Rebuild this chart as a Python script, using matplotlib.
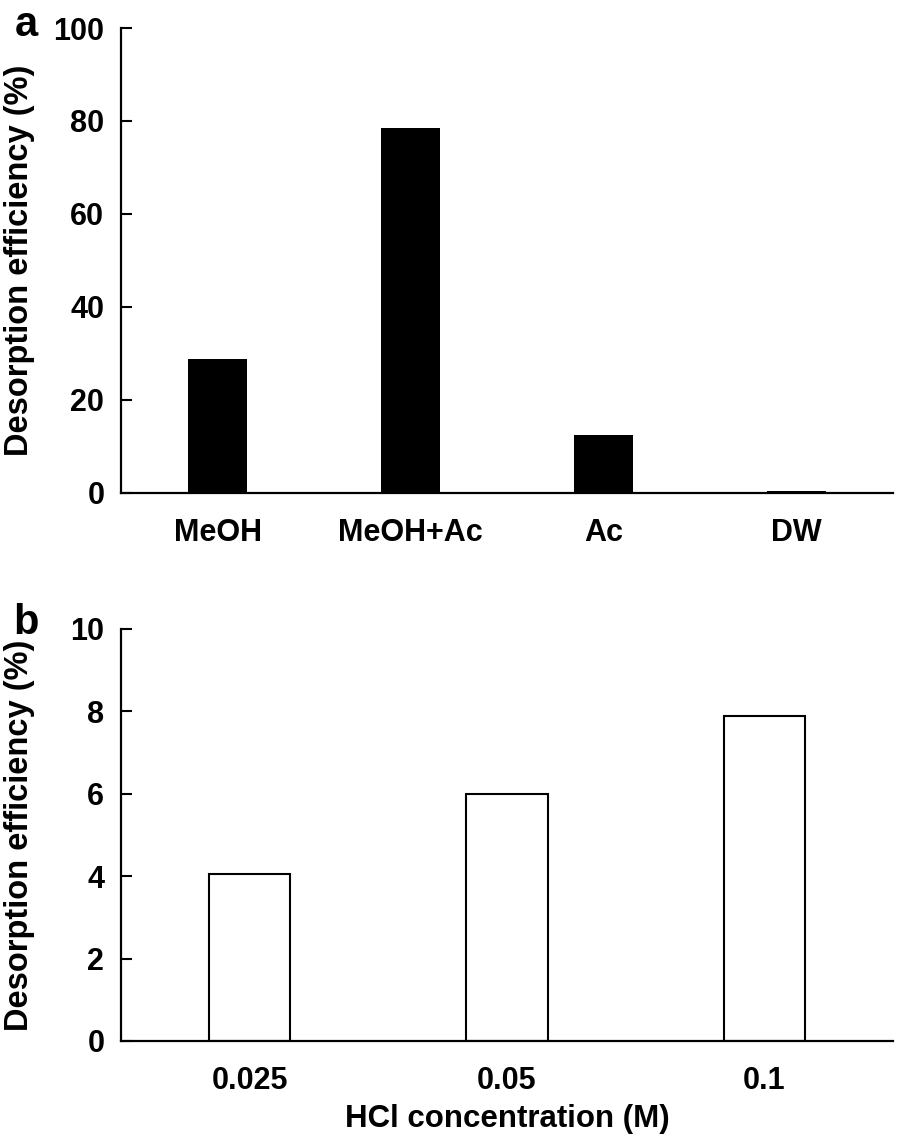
import matplotlib.pyplot as plt
import numpy as np

plt.rcParams['font.family'] = ['Liberation Sans', 'DejaVu Sans']
plt.rcParams['font.weight'] = 'bold'

# panel a - solvents
solvents = ['MeOH', 'MeOH+Ac', 'Ac', 'DW']
solvent_eff = [28.8, 78.5, 12.3, 0.3]

# panel b - HCl concentration
hcl_labels = ['0.025', '0.05', '0.1']
hcl_eff = [4.05, 6.0, 7.9]

fig = plt.figure(figsize=(8.98, 11.45), dpi=100)
W, H = 898, 1145
ax1 = fig.add_axes([121 / W, 1 - 492.5 / H, 772 / W, 464.5 / H])
ax2 = fig.add_axes([121 / W, 1 - 1041 / H, 772 / W, 412 / H])

def style(ax):
    for s in ['top', 'right']:
        ax.spines[s].set_visible(False)
    for s in ['left', 'bottom']:
        ax.spines[s].set_linewidth(1.6)
    ax.tick_params(axis='y', direction='in', length=8, width=1.5, labelsize=22, pad=12)
    ax.tick_params(axis='x', length=0, labelsize=22, pad=18)
    ax.set_ylabel('Desorption efficiency (%)', fontsize=23.5, fontweight='bold')
    ax.yaxis.set_label_coords(-0.112, 0.5)

x1 = np.arange(len(solvents))
ax1.bar(x1, solvent_eff, width=0.31, color='black')
ax1.set_xlim(-0.5, 3.5)
ax1.set_ylim(0, 100)
ax1.set_yticks([0, 20, 40, 60, 80, 100])
ax1.set_xticks(x1)
ax1.set_xticklabels(solvents)
style(ax1)

x2 = np.arange(len(hcl_labels))
ax2.bar(x2, hcl_eff, width=0.315, color='white', edgecolor='black', linewidth=1.5)
ax2.set_xlim(-0.5, 2.5)
ax2.set_ylim(0, 10)
ax2.set_yticks([0, 2, 4, 6, 8, 10])
ax2.set_xticks(x2)
ax2.set_xticklabels(hcl_labels)
ax2.set_xlabel('HCl concentration (M)', fontsize=22.5, fontweight='bold', labelpad=6)
style(ax2)

fig.text(26 / W, 1 - 25 / H, 'a', fontsize=30, fontweight='bold', ha='center', va='center')
fig.text(26 / W, 1 - 623 / H, 'b', fontsize=30, fontweight='bold', ha='center', va='center')

fig.savefig('out.png', dpi=100)
